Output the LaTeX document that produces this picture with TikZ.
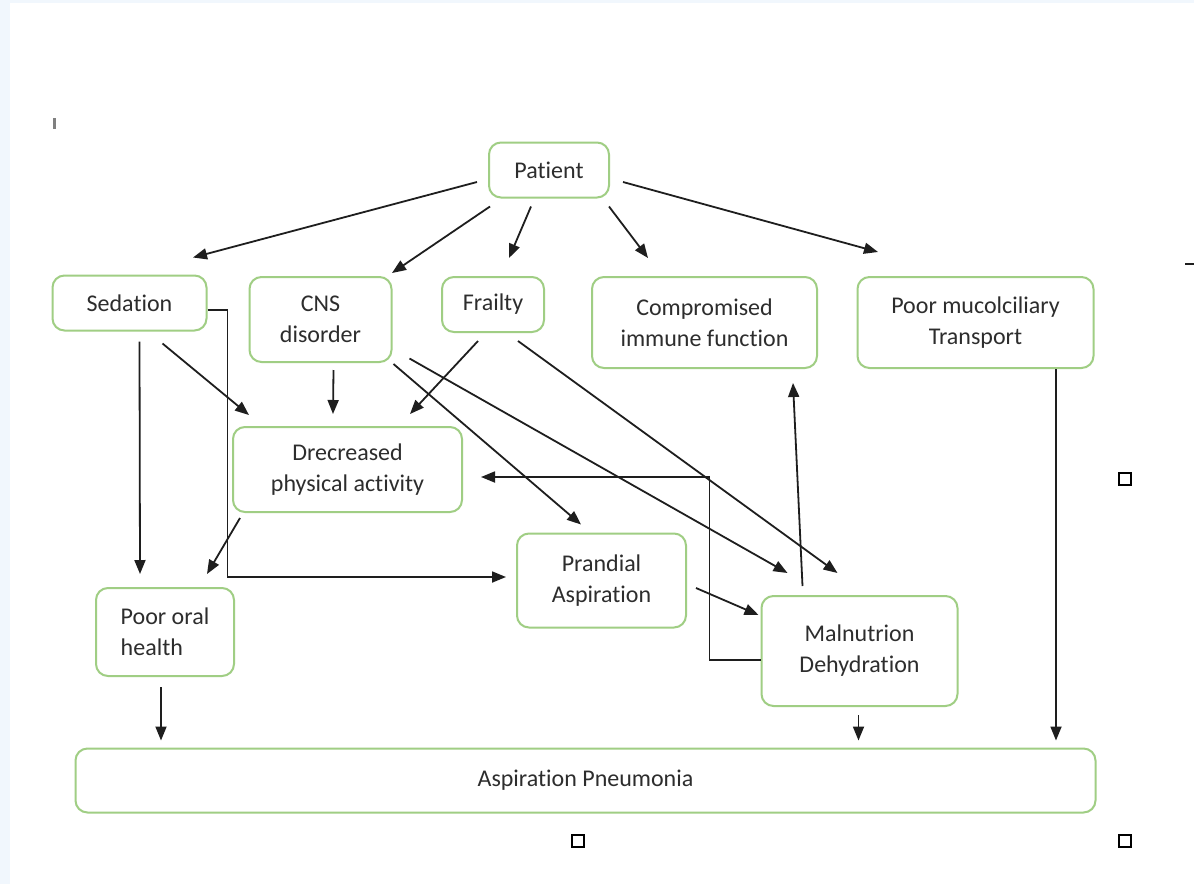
\documentclass[tikz,border=0pt]{standalone}
\usepackage{fontspec}
\setmainfont{Carlito}[Ligatures=NoCommon]
\usetikzlibrary{arrows.meta,calc}
\definecolor{boxgreen}{RGB}{160,206,132}
\definecolor{txtgray}{RGB}{45,45,45}
\definecolor{linegray}{RGB}{30,30,30}
\definecolor{bgblue}{RGB}{241,247,253}
\begin{document}
\begin{tikzpicture}[x=1pt,y=-1pt,
  box/.style={draw=boxgreen, line width=2pt, rounded corners=12pt, fill=white,
    text=txtgray, align=center, inner sep=0pt, font=\fontsize{24}{31}\selectfont},
  arr/.style={draw=linegray, line width=1.8pt, -{Triangle[length=14pt,width=11pt]}},
  sqmark/.style={draw=black, line width=1.8pt, minimum size=12pt, inner sep=0pt}
]
\useasboundingbox (0,0) rectangle (1194,884);
\fill[white] (0,0) rectangle (1194,884);
\fill[bgblue] (0,0) rectangle (1194,3);
\fill[bgblue] (0,0) rectangle (10,884);

% nodes
\node[box, minimum width=120pt, minimum height=55pt] (pat) at (549,170) {Patient};
\node[box, minimum width=154pt, minimum height=55pt] (sed) at (129.5,303) {Sedation};
\node[box, minimum width=142pt, minimum height=85pt] (cns) at (320.5,319.5) {CNS\\disorder};
\node[box, minimum width=102pt, minimum height=55pt] (fra) at (493,304.5) {Frailty};
\node[box, minimum width=225pt, minimum height=91pt] (imm) at (704.5,322.5) {Compromised\\immune function};
\node[box, minimum width=236pt, minimum height=91pt] (muc) at (975.5,322.5) {Poor mucolciliary\\Transport};
\node[box, minimum width=229pt, minimum height=85pt] (dec) at (347.5,469.5) {Drecreased\\physical activity};
\node[box, align=left, minimum width=138pt, minimum height=88pt] (ora) at (165,632) {Poor oral\\health};
\node[box, minimum width=169pt, minimum height=94pt] (pra) at (601.5,580.5) {Prandial\\Aspiration};
\node[box, minimum width=196pt, minimum height=110pt] (mal) at (859.5,651) {Malnutrion\\Dehydration};
\node[box, minimum width=1020pt, minimum height=64pt] (asp) at (585.5,780.5) {\raisebox{3pt}{Aspiration Pneumonia}};

% stray marks
\node[sqmark] (sq1) at (578,841) {};
\node[sqmark] (sq2) at (1125,841) {};
\node[sqmark] (sq3) at (1125,479) {};
\node[fill=gray, inner sep=0pt, minimum width=3pt, minimum height=11pt] (cur) at (54,123) {};
\draw[line width=2pt, linegray] (1185,264) -- (1194,264);

% connectors from Patient
\draw[arr] ([shift={(-11,12)}]pat.west) -- ([shift={(63.5,-17)}]sed.north);
\draw[arr] ([shift={(-59,8)}]pat.south) -- ([shift={(71.5,-3)}]cns.north);
\draw[arr] ([shift={(-18,8)}]pat.south) -- ([shift={(16,-18)}]fra.north);
\draw[arr] ([shift={(60,8)}]pat.south) -- ([shift={(-56.5,-18)}]imm.north);
\draw[arr] ([shift={(13,12)}]pat.east) -- ([shift={(-97.5,-24)}]muc.north);

% from Sedation
\draw[arr] ([shift={(10,10)}]sed.south) -- ([shift={(-25,-13)}]ora.north);
\draw[arr] ([shift={(33,12)}]sed.south) -- ([shift={(-98.5,-11)}]dec.north);
\draw[arr] ([shift={(0,7)}]sed.east) -- ++(20,0) |- ([shift={(-10,-3.5)}]pra.west);

% from CNS disorder
\draw[arr] ([shift={(13,7)}]cns.south) -- ([shift={(-14.5,-12)}]dec.north);
\draw[arr] ([shift={(1,1)}]cns.south east) -- ([shift={(-20.5,-8)}]pra.north);
\draw[arr] ([shift={(17,39)}]cns.east) -- ([shift={(-72,-22)}]mal.north);

% from Frailty
\draw[arr] ([shift={(-15,8)}]fra.south) -- ([shift={(62.5,-12)}]dec.north);
\draw[arr] ([shift={(25,8)}]fra.south) -- ([shift={(-22,-22)}]mal.north);

% from Decreased physical activity
\draw[arr] ([shift={(8,5)}]dec.south west) -- ([shift={(42,-13)}]ora.north);

% from Prandial Aspiration
\draw[arr] ([shift={(9,7.5)}]pra.east) -- ([shift={(-2,-36)}]mal.west);

% from Malnutrion Dehydration
\draw[arr] ([shift={(-57,-9)}]mal.north) -- ([shift={(88.5,14)}]imm.south);
\draw[arr] ([shift={(0,9)}]mal.west) -- ++(-51,0) |- ([shift={(18,7.5)}]dec.east);
\draw[arr] ([shift={(-1,8)}]mal.south) -- ($(mal.south |- asp.north)+(-1,-7)$);

% into Aspiration Pneumonia
\draw[arr] ([shift={(-4,10)}]ora.south) -- ($(ora.south |- asp.north)+(-4,-7)$);
\draw[arr] ([shift={(80.5,0)}]muc.south) -- ($(muc.south |- asp.north)+(80.5,-7)$);
\end{tikzpicture}
\end{document}
